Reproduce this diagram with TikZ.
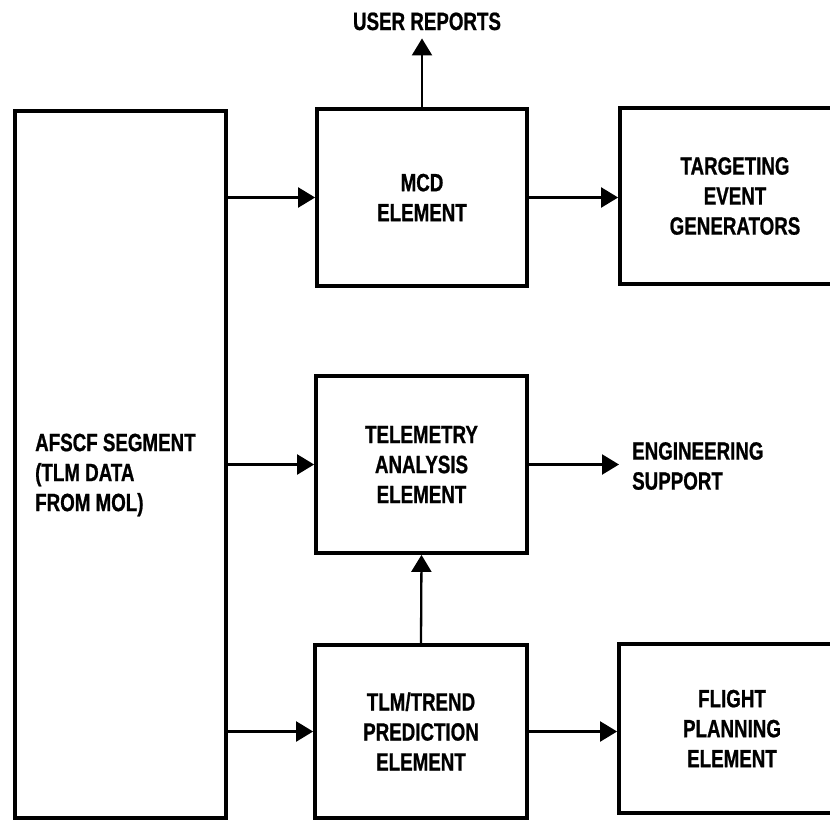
\documentclass[tikz,border=0pt]{standalone}
\usepackage{fontspec}
\setmainfont{Liberation Sans}[BoldFont={Liberation Sans Bold}]
\newfontfamily\lettering{Liberation Sans Bold}[FakeStretch=0.75,FakeBold=0.8]
\usetikzlibrary{arrows.meta}
\begin{document}
\begin{tikzpicture}[x=1pt,y=-1pt,
  lbl/.style={font=\lettering\fontsize{25}{30}\selectfont, align=center, inner sep=0pt},
  blk/.style={draw, line width=3.8pt, lbl},
  arr/.style={line width=2.3pt, -{Triangle[length=17pt,width=20pt]}}]
  \useasboundingbox (0,0) rectangle (830,822);

  % blocks
  \node[blk, minimum width=211pt, minimum height=707pt] (afscf) at (120.5,464.5) {};
  \node[lbl, anchor=west, align=left] (afscftxt) at (35,475)
    {AFSCF SEGMENT\\(TLM DATA\\FROM MOL)};
  \node[blk, minimum width=210pt, minimum height=177pt] (mcd) at (422,197.5)
    {MCD\\ELEMENT};
  \node[blk, minimum width=230pt, minimum height=176pt] (tgt) at (735,196)
    {TARGETING\\EVENT\\GENERATORS};
  \node[blk, minimum width=211pt, minimum height=177pt] (tel) at (421.5,464.5)
    {TELEMETRY\\ANALYSIS\\ELEMENT};
  \node[blk, minimum width=212pt, minimum height=173pt] (tlm) at (421,731.5)
    {TLM/TREND\\PREDICTION\\ELEMENT};
  \node[blk, minimum width=226pt, minimum height=169pt] (flt) at (732,728.5)
    {FLIGHT\\PLANNING\\ELEMENT};

  % outputs without boxes
  \node[lbl, anchor=base, inner ysep=8pt] (user) at (427,30) {USER REPORTS};
  \node[lbl, anchor=west, align=left, inner xsep=13pt] (eng) at (619,466)
    {ENGINEERING\\SUPPORT};

  % connectors
  \draw[arr] (afscf.east |- mcd.west) -- (mcd.west);
  \draw[arr] (mcd.east) -- (mcd.east -| tgt.west);
  \draw[arr] (mcd.north) -- (mcd.north |- user.south);
  \draw[arr] (afscf.east |- tel.west) -- (tel.west);
  \draw[arr] (tel.east) -- (tel.east -| eng.west);
  \draw[arr] (tlm.north) -- (tel.south);
  \draw[arr] (afscf.east |- tlm.west) -- (tlm.west);
  \draw[arr] (tlm.east) -- (tlm.east -| flt.west);
\end{tikzpicture}
\end{document}
